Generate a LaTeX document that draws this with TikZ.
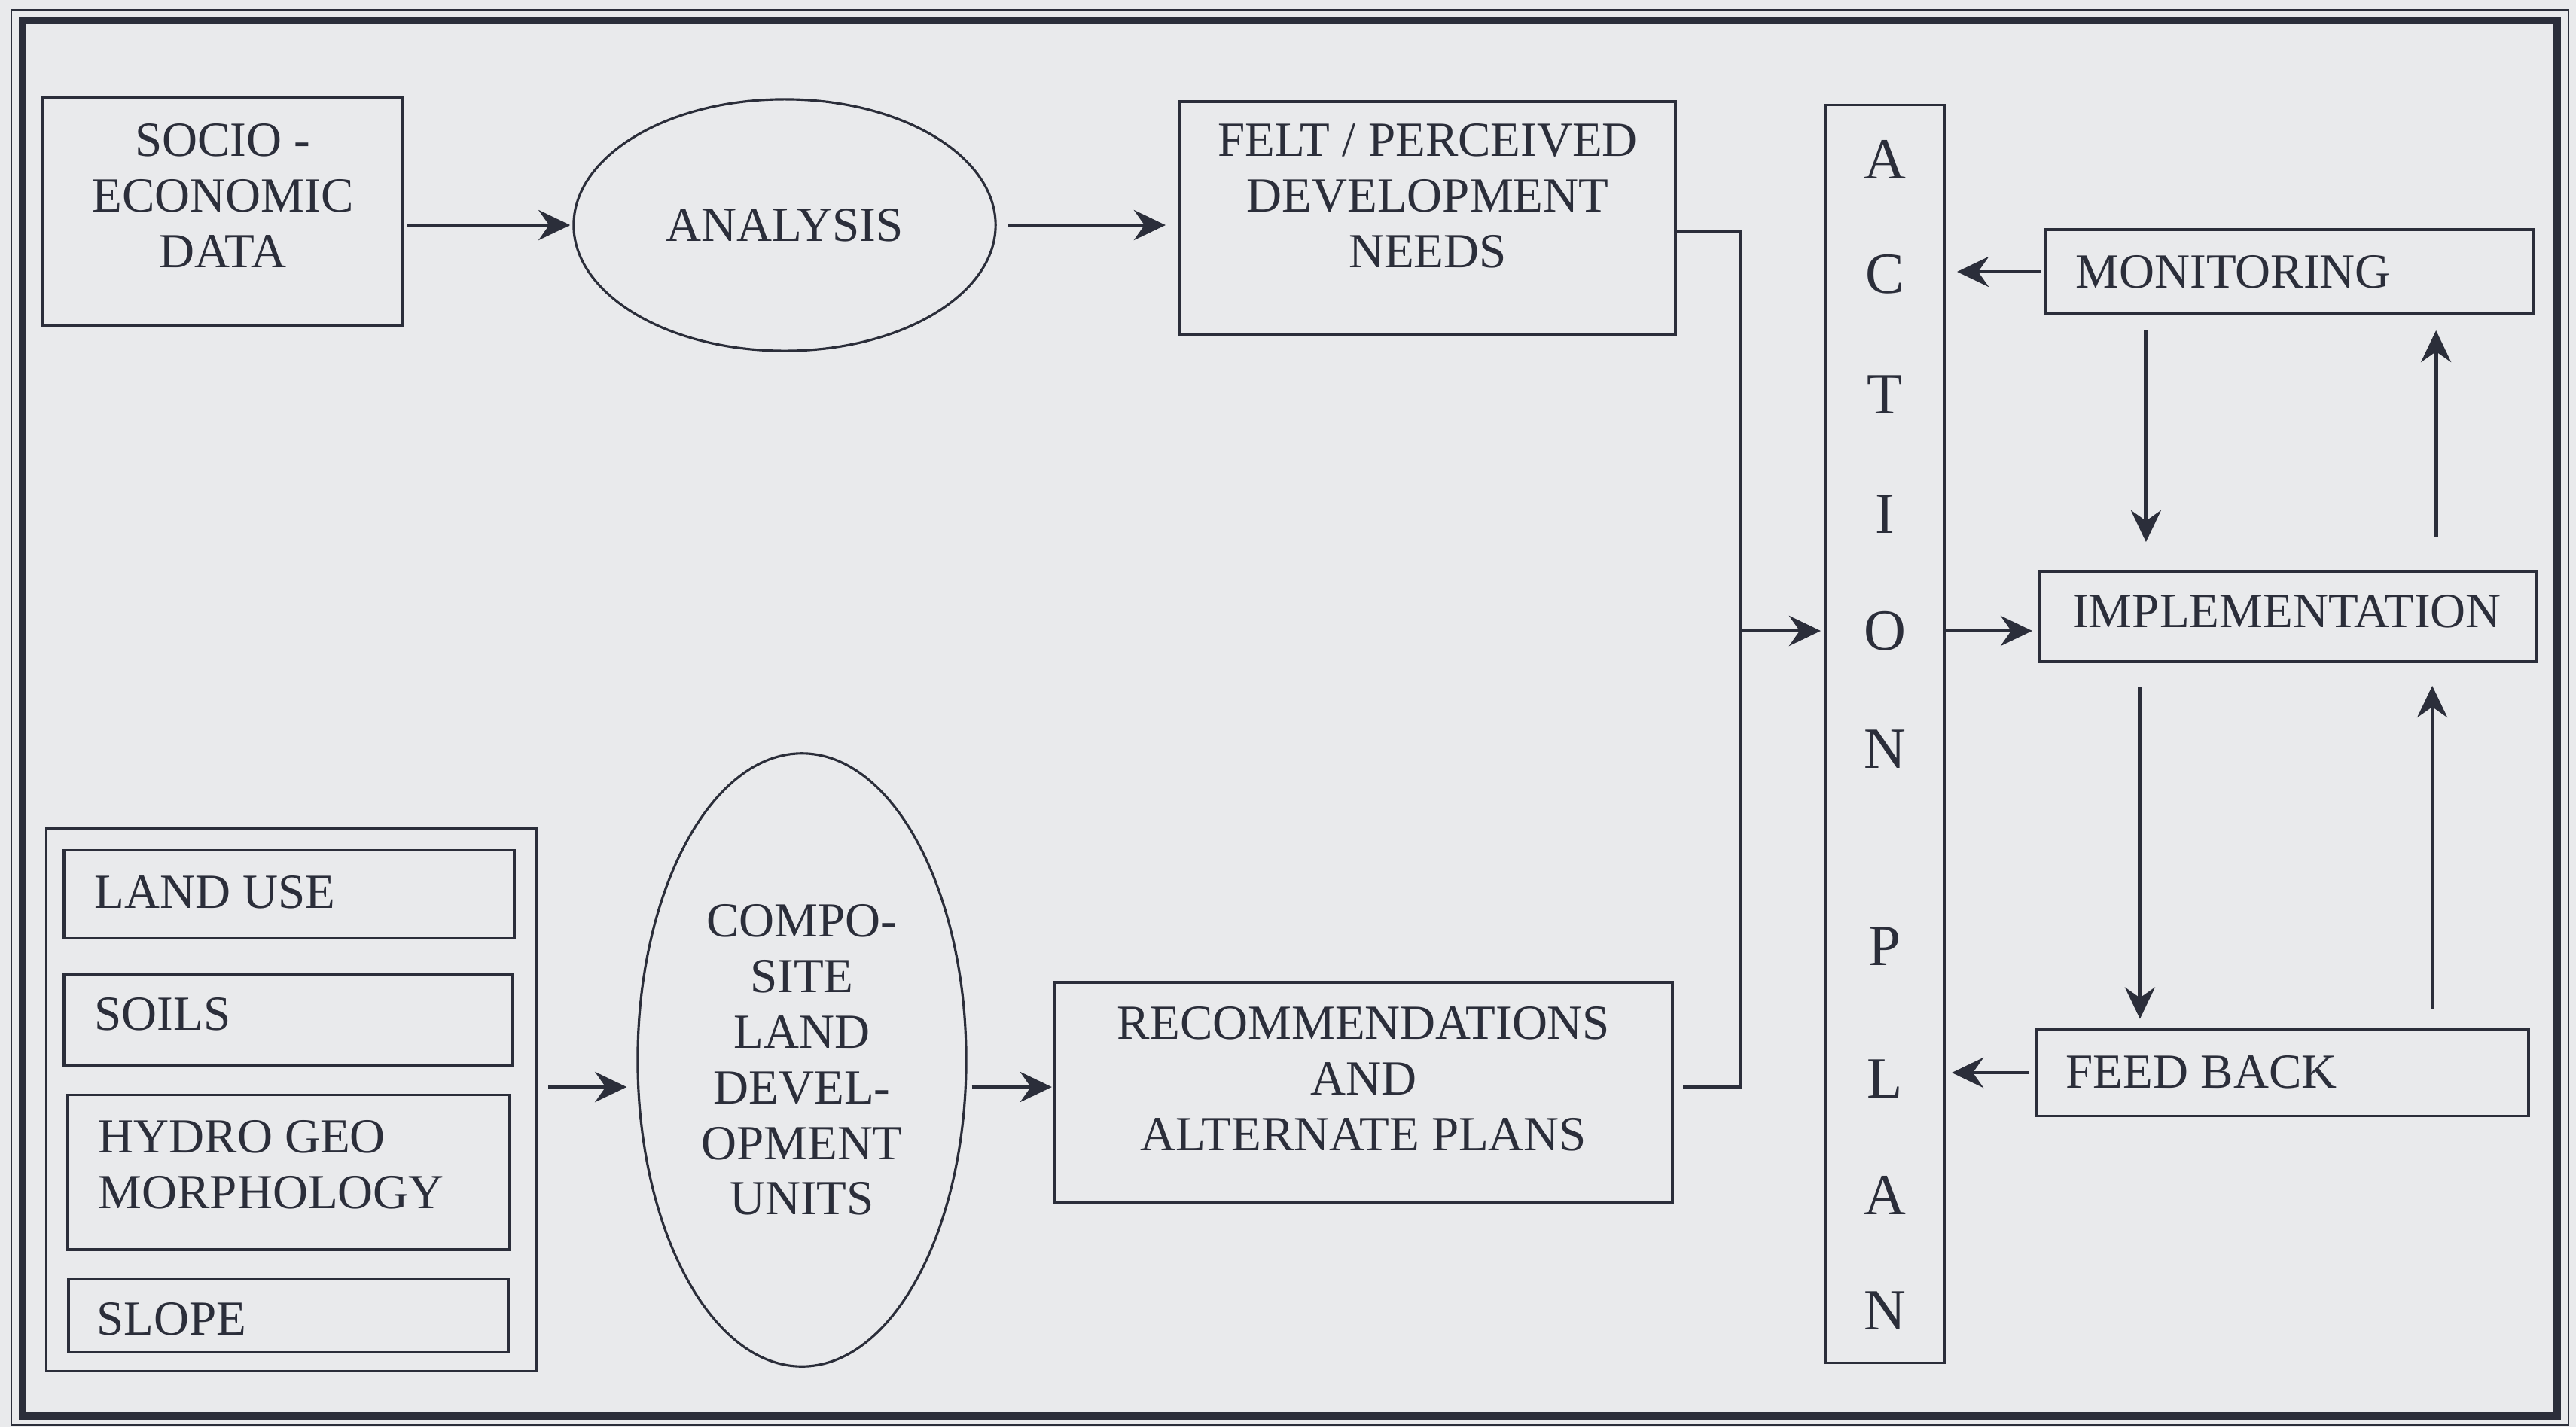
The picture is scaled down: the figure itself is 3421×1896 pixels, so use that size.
\documentclass[tikz,border=0pt]{standalone}
\usepackage{fontspec}
\setmainfont{Liberation Serif}
\usetikzlibrary{shapes.geometric,arrows.meta}
\definecolor{paper}{HTML}{E9EAEC}
\definecolor{ink}{HTML}{2B2E3A}
\begin{document}
\begin{tikzpicture}[x=0.01cm,y=-0.01cm,
  every node/.style={text=ink, font=\fontsize{18.5}{21}\selectfont},
  box/.style={draw=ink, line width=1.1pt, rectangle, inner sep=0pt},
  oval/.style={draw=ink, line width=0.9pt, ellipse, inner sep=0pt, align=center},
  lbl/.style={align=center, inner sep=0pt},
  llbl/.style={align=left, anchor=west, inner sep=0pt},
  letter/.style={font=\fontsize{22}{24}\selectfont, inner sep=0pt},
  arr/.style={draw=ink, line width=1.4pt, -{Stealth[length=0.42cm,width=0.40cm,inset=0.14cm]}},
  wire/.style={draw=ink, line width=1.4pt}]

% page and double frame
\useasboundingbox (0,0) rectangle (3421,1896);
\fill[paper] (0,0) rectangle (3421,1896);
\draw[ink, line width=0.6pt] (15,13) rectangle (3411,1893);
\draw[ink, line width=2.8pt] (30,27) rectangle (3396,1881);

% upper branch
\node[box, minimum width=4.77cm, minimum height=3.02cm] (socio) at (296,281) {};
\node[lbl] (socio-t) at (296,260) {SOCIO -\\ECONOMIC\\DATA};
\node[oval, minimum width=5.6cm, minimum height=3.34cm] (analysis) at (1042,299) {ANALYSIS};
\node[box, minimum width=6.58cm, minimum height=3.10cm] (felt) at (1896,290) {};
\node[lbl] (felt-t) at (1896,260) {FELT / PERCEIVED\\DEVELOPMENT\\NEEDS};

% lower branch
\node[box, line width=0.9pt, minimum width=6.50cm, minimum height=7.21cm] (group) at (387,1461) {};
\node[box, minimum width=5.97cm, minimum height=1.17cm] (landuse) at (384,1188) {};
\node[box, minimum width=5.95cm, minimum height=1.22cm] (soils) at (383,1355) {};
\node[box, minimum width=5.88cm, minimum height=2.05cm] (hydro) at (383,1557) {};
\node[box, minimum width=5.84cm, minimum height=0.97cm] (slope) at (383,1748) {};
\node[llbl] (landuse-t) at (125,1185) {LAND USE};
\node[llbl] (soils-t) at (125,1347) {SOILS};
\node[llbl] (hydro-t) at (130,1547) {HYDRO GEO\\MORPHOLOGY};
\node[llbl] (slope-t) at (128,1752) {SLOPE};
\node[oval, minimum width=4.36cm, minimum height=8.14cm] (composite) at (1065,1408) {COMPO-\\SITE\\LAND\\DEVEL-\\OPMENT\\UNITS};
\node[box, minimum width=8.20cm, minimum height=2.92cm] (recomm) at (1811,1451) {};
\node[lbl] (recomm-t) at (1811,1433) {RECOMMENDATIONS\\AND\\ALTERNATE PLANS};

% action plan column
\node[box, minimum width=1.58cm, minimum height=16.70cm] (action) at (2503,975) {};
\node[letter] (a1) at (2503,212) {A};
\node[letter] (a2) at (2503,364) {C};
\node[letter] (a3) at (2503,524) {T};
\node[letter] (a4) at (2503,683) {I};
\node[letter] (a5) at (2503,838) {O};
\node[letter] (a6) at (2503,995) {N};
\node[letter] (a7) at (2503,1257) {P};
\node[letter] (a8) at (2503,1433) {L};
\node[letter] (a9) at (2503,1588) {A};
\node[letter] (a10) at (2503,1741) {N};

% monitoring cycle
\node[box, minimum width=6.47cm, minimum height=1.12cm] (mon) at (3040,361) {};
\node[llbl] (mon-t) at (2756,361) {MONITORING};
\node[box, minimum width=6.60cm, minimum height=1.20cm] (impl) at (3039,819) {};
\node[lbl] (impl-t) at (3037,812) {IMPLEMENTATION};
\node[box, minimum width=6.54cm, minimum height=1.15cm] (feed) at (3031,1425) {};
\node[llbl] (feed-t) at (2743,1424) {FEED BACK};

% junction of the two branches
\coordinate (j1) at (2312,307);
\coordinate (j2) at (2312,1444);

% connectors
\draw[arr, shorten <=0.03cm, shorten >=0.03cm] (socio.east |- analysis) -- (analysis.west);
\draw[arr, shorten <=0.14cm, shorten >=0.17cm] (analysis.east) -- (felt.west |- analysis);
\draw[arr, shorten <=0.14cm, shorten >=0.13cm] (group.east |- j2) -- (composite.west |- j2);
\draw[arr, shorten <=0.06cm, shorten >=0.02cm] (composite.east |- j2) -- (recomm.west |- j2);
\draw[wire, shorten <=0.12cm] (recomm.east |- j2) -- (j2) -- (j1) -- (felt.east |- j1);
\draw[arr, shorten >=0.04cm] (j1 |- a5) -- (action.west |- a5);
\draw[arr, shorten >=0.08cm] (action.east |- a5) -- (impl.west |- a5);
\draw[arr, shorten <=0.03cm, shorten >=0.15cm] (mon.west) -- (action.east |- mon.west);
\draw[arr, shorten <=0.08cm, shorten >=0.08cm] (feed.west) -- (action.east |- feed.west);
\draw[arr, shorten <=0.2cm, shorten >=0.37cm] ([xshift=-1.9cm]mon.south) -- ([xshift=-1.9cm]mon.south |- impl.north);
\draw[arr, shorten <=0.44cm, shorten >=0.2cm] ([xshift=1.95cm]mon.south |- impl.north) -- ([xshift=1.95cm]mon.south);
\draw[arr, shorten <=0.32cm, shorten >=0.12cm] ([xshift=-1.97cm]impl.south) -- ([xshift=-1.97cm]impl.south |- feed.north);
\draw[arr, shorten <=0.25cm, shorten >=0.3cm] ([xshift=1.91cm]impl.south |- feed.north) -- ([xshift=1.91cm]impl.south);
\end{tikzpicture}
\end{document}
